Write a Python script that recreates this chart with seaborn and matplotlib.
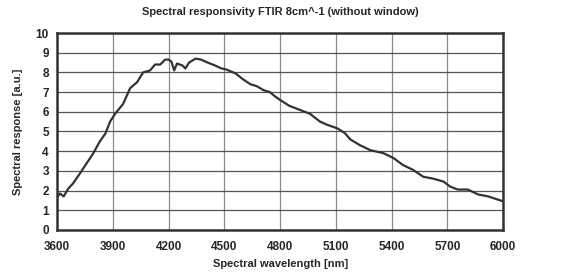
import numpy as np
import pandas as pd
import matplotlib
matplotlib.use("Agg")
import matplotlib.pyplot as plt
import seaborn as sns

# Values
wavelength = [3600, 3615, 3635, 3660, 3685, 3725, 3760, 3795, 3830, 3860, 3885, 3912,
              3955, 3993, 4030, 4063, 4100, 4127, 4155, 4181, 4200, 4215, 4230, 4245,
              4275, 4290, 4310, 4345, 4375, 4410, 4450, 4485, 4510, 4560, 4600, 4640,
              4675, 4710, 4745, 4770, 4800, 4850, 4905, 4960, 5015, 5050, 5110, 5150,
              5177, 5230, 5285, 5355, 5410, 5460, 5515, 5570, 5625, 5680, 5715, 5755,
              5810, 5865, 5920, 6000]
response = [1.65, 1.85, 1.7, 2.1, 2.35, 2.9, 3.4, 3.9, 4.5, 4.9, 5.5, 5.9,
            6.4, 7.2, 7.5, 8.0, 8.1, 8.4, 8.4, 8.65, 8.65, 8.55, 8.1, 8.45,
            8.35, 8.2, 8.5, 8.7, 8.65, 8.5, 8.35, 8.2, 8.15, 7.95, 7.65, 7.4,
            7.3, 7.1, 7.0, 6.8, 6.6, 6.3, 6.1, 5.9, 5.5, 5.35, 5.15, 4.9,
            4.6, 4.3, 4.05, 3.9, 3.65, 3.3, 3.05, 2.7, 2.6, 2.45, 2.2, 2.05,
            2.05, 1.8, 1.7, 1.45]

x_ticks = [3600, 3900, 4200, 4500, 4800, 5100, 5400, 5700, 6000]
y_ticks = list(range(0, 11))

df = pd.DataFrame({"wavelength": wavelength, "response": response})

sns.set_style("white")
plt.rcParams['font.family'] = ['Liberation Sans', 'DejaVu Sans']
plt.rcParams['font.weight'] = 'bold'

fig = plt.figure(figsize=(5.83, 2.8), dpi=100)
ax = fig.add_axes([0.098, 0.179, 0.765, 0.703])

sns.lineplot(data=df, x="wavelength", y="response", ax=ax, color="#333333",
             linewidth=1.6, zorder=3)

ax.set_xlim(3600, 6000)
ax.set_ylim(0, 10)
ax.set_xticks(x_ticks)
ax.set_yticks(y_ticks)
ax.tick_params(length=0, labelsize=8.5)
ax.tick_params(axis='x', pad=8)
ax.tick_params(axis='y', pad=6)
for lab in ax.get_xticklabels() + ax.get_yticklabels():
    lab.set_fontweight('bold')

ax.xaxis.grid(True, color="#8a8a8a", linewidth=0.9)
ax.yaxis.grid(True, color="#555555", linewidth=0.9)
ax.set_axisbelow(True)
for s in ax.spines.values():
    s.set_color("#333333")
    s.set_linewidth(1.8)

ax.set_xlabel("Spectral wavelength [nm]", fontsize=8, fontweight='bold', labelpad=4)
ax.set_ylabel("Spectral response [a.u.]", fontsize=8, fontweight='bold', labelpad=9)
ax.set_title("Spectral responsivity FTIR 8cm^-1 (without window)", fontsize=8,
             fontweight='bold', pad=13)

fig.savefig("out.png", dpi=100)
